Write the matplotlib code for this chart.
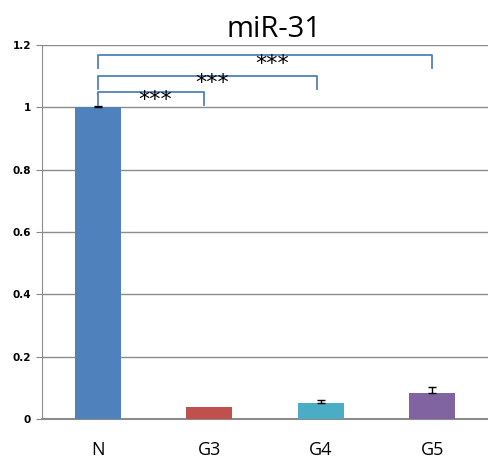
import matplotlib
matplotlib.use("Agg")
from matplotlib import pyplot as plt
import numpy as np

groups = ["N", "G3", "G4", "G5"]
values = [1.0, 0.038, 0.051, 0.084]
errors = [0.003, 0.0, 0.010, 0.019]
colors = ["#4F81BD", "#C0504D", "#4BACC6", "#8064A2"]
yticks = [0, 0.2, 0.4, 0.6, 0.8, 1, 1.2]
ytick_labels = ["0", "0.2", "0.4", "0.6", "0.8", "1", "1.2"]

# brackets: (start, end, line height, tip bottom left, tip bottom right)
brackets = [(0, 0.95, 1.049, 1.006, 1.006),
            (0, 1.97, 1.101, 1.06, 1.06),
            (0, 3.0, 1.167, 1.125, 1.125)]
star_pos = [(0.51, 1.025), (1.03, 1.077), (1.56, 1.14)]

fig = plt.figure(figsize=(4.89, 4.59), dpi=100)
ax = fig.add_axes([0.086, 0.087, 0.912, 0.815])
x = np.arange(len(groups))
ax.bar(x, values, width=0.41, color=colors, zorder=3)
# only upper error bars, skip groups without error
err = np.array(errors)
has = err > 0
ax.errorbar(x[has], np.array(values)[has], yerr=[np.zeros(has.sum()), err[has]],
            fmt="none", ecolor="black", elinewidth=1, capsize=3, capthick=1, zorder=4)
ax.set_xlim(-0.5, 3.5)
ax.set_ylim(0, 1.2)
ax.set_yticks(yticks)
ax.set_yticklabels(ytick_labels, fontsize=7.5, fontweight="bold", family="DejaVu Sans")
ax.set_xticks(x)
ax.set_xticklabels(groups, fontsize=13, family="Open Sans")
ax.tick_params(axis="x", length=0, pad=16)
ax.tick_params(axis="y", length=4.3, color="#888888", pad=3.5)
ax.grid(axis="y", color="#8c8c8c", linewidth=1, zorder=0)
for s in ["top", "right"]:
    ax.spines[s].set_visible(False)
ax.spines["left"].set_color("#8c8c8c")
ax.spines["bottom"].set_color("#8c8c8c")
ax.spines["bottom"].set_linewidth(1.5)

for (a, b, h, ta, tb) in brackets:
    ax.plot([a, a, b, b], [ta, h, h, tb], color="#4F81BD", linewidth=1.3,
            zorder=4, clip_on=False)
for (sx, sy) in star_pos:
    ax.text(sx, sy, "***", ha="center", va="center", fontsize=16, zorder=5)

fig.text(0.56, 0.935, "miR-31", ha="center", va="center", fontsize=21, family="Open Sans")
fig.savefig("out.png", dpi=100)
